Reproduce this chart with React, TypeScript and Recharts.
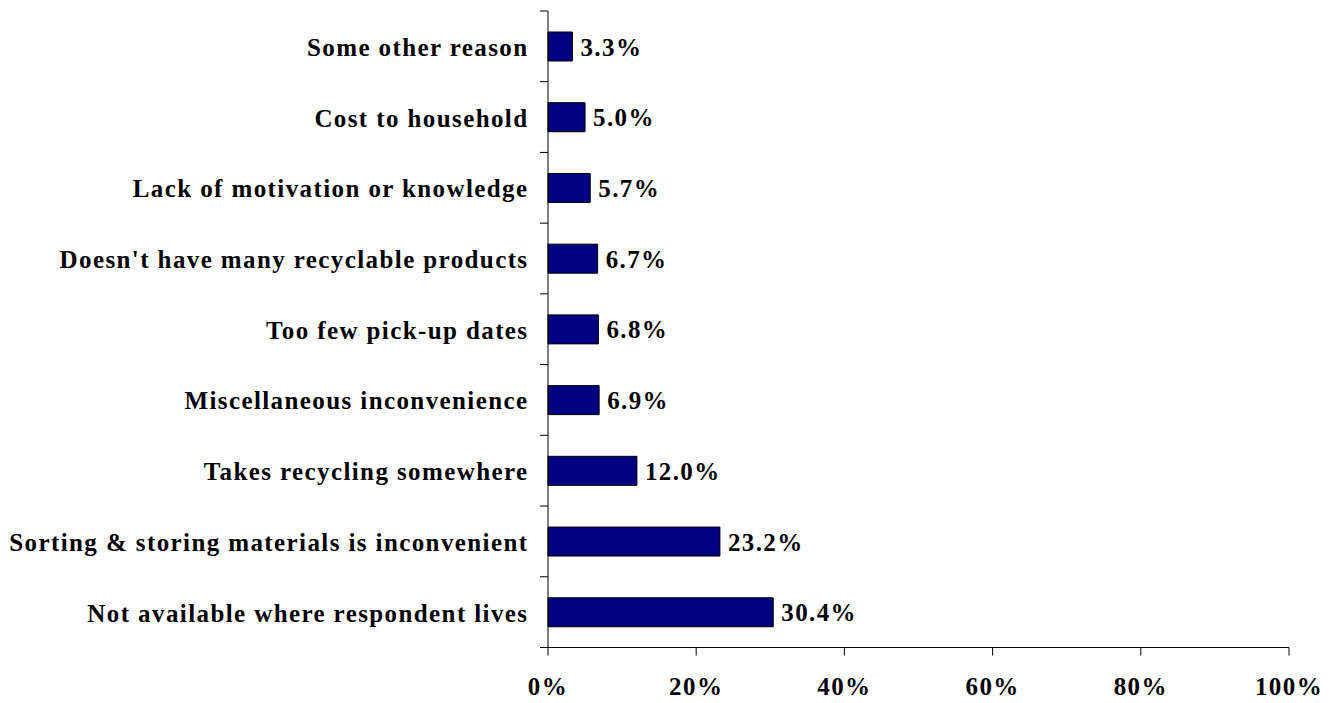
import React from 'react';
import { BarChart, Bar, XAxis, YAxis, LabelList } from 'recharts';

const reasons = [
  'Some other reason',
  'Cost to household',
  'Lack of motivation or knowledge',
  "Doesn't have many recyclable products",
  'Too few pick-up dates',
  'Miscellaneous inconvenience',
  'Takes recycling somewhere',
  'Sorting & storing materials is inconvenient',
  'Not available where respondent lives',
];
const shares = [3.3, 5.0, 5.7, 6.7, 6.8, 6.9, 12.0, 23.2, 30.4];
const xTicks = [0, 20, 40, 60, 80, 100];

const data = reasons.map((name, i) => ({ name, value: shares[i] }));

const W = 1338;
const H = 703;
const margin = { top: 11, right: 49, bottom: 5, left: 0 };
const X_AXIS_H = 50.5;
const Y_AXIS_W = 548;
const band = (H - margin.top - margin.bottom - X_AXIS_H) / data.length;

const font = {
  fontFamily: '"Liberation Serif", "Times New Roman", serif',
  fontWeight: 700,
  fontSize: 25,
  letterSpacing: 1.4,
  fill: '#000',
};

const YTick = (props: any) => {
  const { x, y, payload, index } = props;
  return (
    <g>
      <line x1={x - 8} x2={x} y1={y - band / 2} y2={y - band / 2} stroke="#000" />
      {index === data.length - 1 && (
        <line x1={x - 8} x2={x} y1={y + band / 2} y2={y + band / 2} stroke="#000" />
      )}
      <text x={x - 19.5} y={y + 9.5} textAnchor="end" style={font}>
        {payload.value}
      </text>
    </g>
  );
};

const XTick = (props: any) => {
  const { x, y, payload } = props;
  return (
    <text x={x} y={y + 37.5} textAnchor="middle" style={font}>
      {payload.value + '%'}
    </text>
  );
};

const ValueLabel = (props: any) => {
  const { x, y, width, height, value } = props;
  return (
    <text x={x + width + 8} y={y + height / 2 + 9} style={font}>
      {Number(value).toFixed(1) + '%'}
    </text>
  );
};

export default function App() {
  return (
    <div style={{ position: 'absolute', left: 0, top: 0, background: '#fff' }}>
      <BarChart width={W} height={H} data={data} layout="vertical" margin={margin}>
        <XAxis
          type="number"
          domain={[0, 100]}
          ticks={xTicks}
          interval={0}
          height={X_AXIS_H}
          tickSize={8}
          tickMargin={2}
          axisLine={{ stroke: '#000' }}
          tickLine={{ stroke: '#000' }}
          tick={<XTick />}
        />
        <YAxis
          type="category"
          dataKey="name"
          width={Y_AXIS_W}
          interval={0}
          tickSize={0}
          tickMargin={0}
          tickLine={false}
          axisLine={{ stroke: '#000' }}
          tick={<YTick />}
        />
        <Bar dataKey="value" fill="#000080" stroke="#000" strokeWidth={1} barSize={29} isAnimationActive={false}>
          <LabelList dataKey="value" content={<ValueLabel />} />
        </Bar>
      </BarChart>
    </div>
  );
}
